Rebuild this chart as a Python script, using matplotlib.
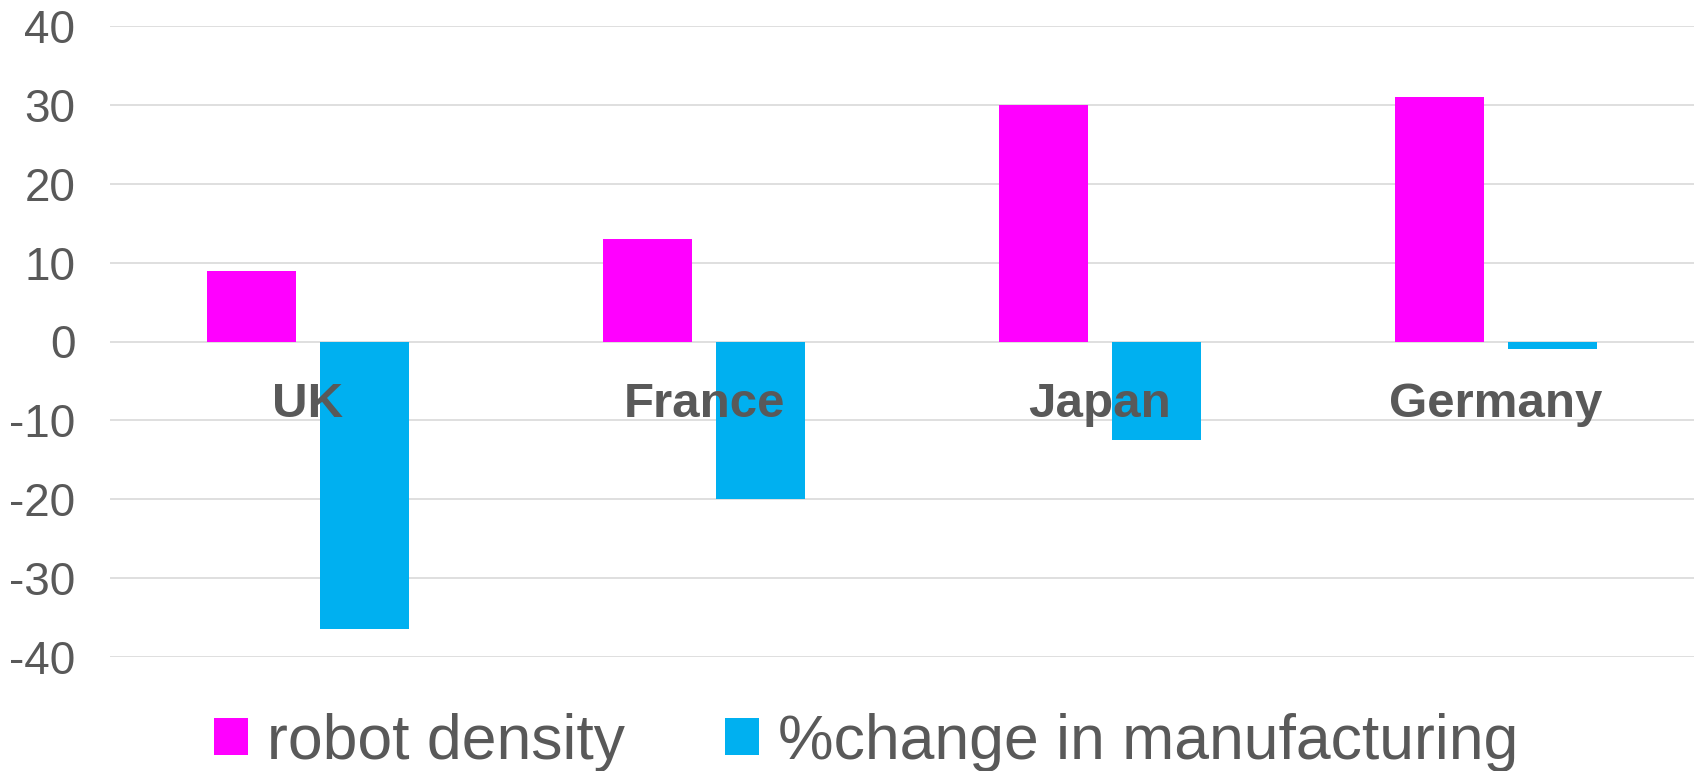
import matplotlib
matplotlib.use('Agg')
import matplotlib.pyplot as plt
import numpy as np

countries = ['UK', 'France', 'Japan', 'Germany']
robot_density = [9, 13, 30, 31]
pct_change_manufacturing = [-36.5, -20, -12.5, -1]
series_names = ['robot density', '%change in manufacturing']
yticks = [-40, -30, -20, -10, 0, 10, 20, 30, 40]

plt.rcParams['font.family'] = ['Liberation Sans', 'DejaVu Sans']
plt.rcParams['axes.unicode_minus'] = False

grey_text = '#595959'
pink = '#FF00FF'
blue = '#00B0F0'

fig = plt.figure(figsize=(16.96, 7.71), dpi=100)
ax = fig.add_axes([110/1696, 1 - 657/771, 1584/1696, (657 - 26)/771])

x = np.arange(len(countries))
w = 0.224
off = 0.1435
ax.bar(x - off, robot_density, width=w, color=pink, zorder=2, label=series_names[0])
ax.bar(x + off, pct_change_manufacturing, width=w, color=blue, zorder=2, label=series_names[1])

ax.set_xlim(-0.5, len(countries) - 0.5)
ax.set_ylim(-40, 40)
ax.set_yticks(yticks)
ax.set_yticklabels([str(v) for v in yticks])
ax.yaxis.grid(True, color='#D9D9D9', linewidth=1.2, zorder=0)
ax.set_axisbelow(True)
ax.set_xticks([])
ax.tick_params(axis='y', length=0, pad=25, labelsize=33, labelcolor=grey_text)
for s in ax.spines.values():
    s.set_visible(False)

# category names sit just under the zero line
for i, name in enumerate(countries):
    ax.annotate(name, xy=(i, 0), xytext=(0, -29), textcoords='offset points',
                ha='center', va='top', fontsize=35.5, fontweight='bold',
                color=grey_text, zorder=5)

fig.legend(loc='center', bbox_to_anchor=(866/1696, 1 - 742/771), ncol=2,
           frameon=False, fontsize=45, labelcolor=grey_text,
           handlelength=0.55, handleheight=0.55, handletextpad=0.3,
           columnspacing=1.6, borderpad=0, borderaxespad=0)

fig.savefig('out.png', dpi=100)
